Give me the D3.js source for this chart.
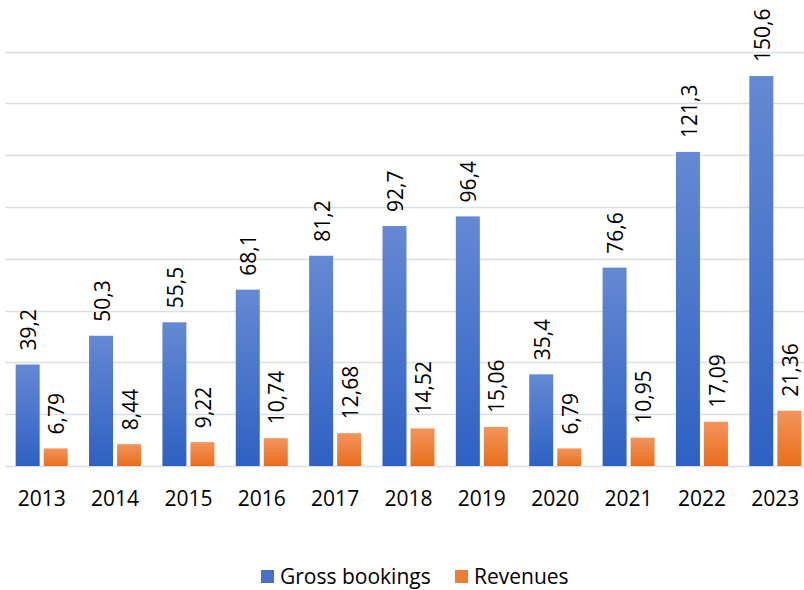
<!DOCTYPE html>
<html>
<head>
<meta charset="utf-8">
<script src="https://cdn.jsdelivr.net/npm/d3@7"></script>
<style>
  html, body { margin: 0; padding: 0; background: #ffffff; }
  svg { display: block; }
  text { font-family: "Open Sans", "Noto Sans", sans-serif; fill: #000; }
</style>
</head>
<body>
<svg id="chart" width="804" height="590"></svg>
<script>
// Yearly figures (billions)
const years = ["2013", "2014", "2015", "2016", "2017", "2018", "2019", "2020", "2021", "2022", "2023"];
const grossBookings = [39.2, 50.3, 55.5, 68.1, 81.2, 92.7, 96.4, 35.4, 76.6, 121.3, 150.6];
const revenues = [6.79, 8.44, 9.22, 10.74, 12.68, 14.52, 15.06, 6.79, 10.95, 17.09, 21.36];
const grossLabels = ["39,2", "50,3", "55,5", "68,1", "81,2", "92,7", "96,4", "35,4", "76,6", "121,3", "150,6"];
const revenueLabels = ["6,79", "8,44", "9,22", "10,74", "12,68", "14,52", "15,06", "6,79", "10,95", "17,09", "21,36"];
const seriesNames = ["Gross bookings", "Revenues"];
const yTicks = [0, 20, 40, 60, 80, 100, 120, 140, 160];

const svg = d3.select("#chart");
const W = 804, H = 590;

const plot = { left: 5, right: 812, top: 51.7, bottom: 466 };

const x = d3.scaleBand().domain(years).range([plot.left, plot.right]).padding(0);
const y = d3.scaleLinear().domain([0, 160]).range([plot.bottom, plot.top]);

const step = x.bandwidth();
const barW = step * 0.327;
const gap = step * 0.055;
const groupOffset = (step - (2 * barW + gap)) / 2;

// vertical gradients for the two series
const defs = svg.append("defs");
function grad(id, top, bottom) {
  const g = defs.append("linearGradient").attr("id", id)
    .attr("x1", 0).attr("y1", 0).attr("x2", 0).attr("y2", 1);
  g.append("stop").attr("offset", "0%").attr("stop-color", top);
  g.append("stop").attr("offset", "100%").attr("stop-color", bottom);
}
grad("gBlue", "#6589d3", "#2e61c3");
grad("gOrange", "#f3945c", "#e96e1b");

// horizontal gridlines
svg.append("g").selectAll("line").data(yTicks).join("line")
  .attr("x1", plot.left).attr("x2", W)
  .attr("y1", d => Math.round(y(d)) + 0.5).attr("y2", d => Math.round(y(d)) + 0.5)
  .attr("stroke", "#dcdfe4").attr("stroke-width", 1.5);

// bars with rotated value labels
const series = [
  { name: seriesNames[0], values: grossBookings, labels: grossLabels, fill: "url(#gBlue)", off: 0 },
  { name: seriesNames[1], values: revenues, labels: revenueLabels, fill: "url(#gOrange)", off: 1 }
];

const fontSize = 21;
series.forEach(s => {
  const bx = i => x(years[i]) + groupOffset + s.off * (barW + gap);
  svg.append("g").selectAll("rect").data(s.values).join("rect")
    .attr("x", (d, i) => bx(i))
    .attr("width", barW)
    .attr("y", d => y(d))
    .attr("height", d => y(0) - y(d))
    .attr("fill", s.fill);

  svg.append("g").selectAll("text").data(s.values).join("text")
    .attr("transform", (d, i) => {
      const cx = bx(i) + barW / 2 + 1 + fontSize * 0.36;
      const cy = y(d) - 14;
      return `translate(${cx},${cy}) rotate(-90)`;
    })
    .attr("text-anchor", "start")
    .attr("font-size", fontSize)
    .text((d, i) => s.labels[i]);
});

// category axis labels
svg.append("g").selectAll("text").data(years).join("text")
  .attr("x", d => x(d) + step / 2)
  .attr("y", 506)
  .attr("text-anchor", "middle")
  .attr("font-size", fontSize)
  .text(d => d);

// legend
const legend = svg.append("g");
const legendItems = [
  { name: seriesNames[0], color: "#4472c4", x: 261 },
  { name: seriesNames[1], color: "#ed7d31", x: 455 }
];
legendItems.forEach(it => {
  legend.append("rect").attr("x", it.x).attr("y", 570).attr("width", 13).attr("height", 13).attr("fill", it.color);
  legend.append("text").attr("x", it.x + 19).attr("y", 584).attr("font-size", fontSize).text(it.name);
});
</script>
</body>
</html>
